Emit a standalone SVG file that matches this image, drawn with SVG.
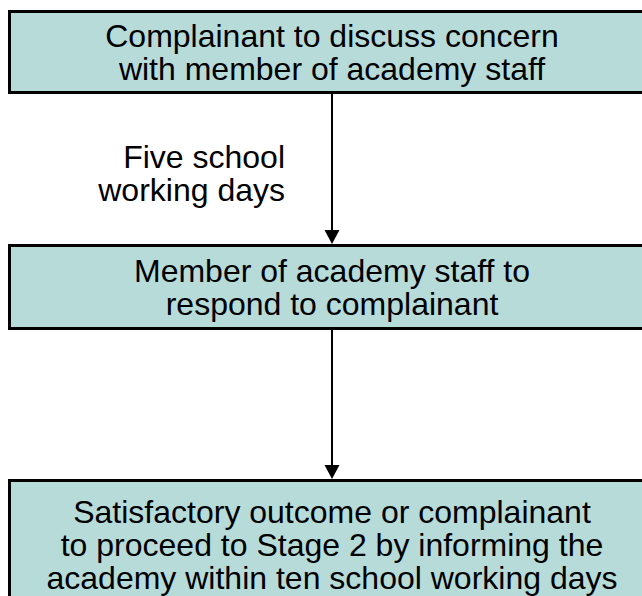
<svg xmlns="http://www.w3.org/2000/svg" width="642" height="596" viewBox="0 0 642 596">
<style>
.box{fill:#B6DBD8;stroke:#000;stroke-width:3}
.t{font-family:"Liberation Sans",Arial,sans-serif;font-size:32px;fill:#000;text-anchor:middle}
.lbl{font-family:"Liberation Sans",Arial,sans-serif;font-size:32px;fill:#000;text-anchor:end}
.c{stroke:#000;stroke-width:2;fill:none}
</style>
<rect width="642" height="596" fill="#fff"/>
<g id="connectors">
<line class="c" x1="332" y1="94" x2="332" y2="232"/>
<polygon points="332,244 324.5,230 339.5,230" fill="#000"/>
<line class="c" x1="332" y1="330" x2="332" y2="467"/>
<polygon points="332,479 324.5,465 339.5,465" fill="#000"/>
<text class="lbl" x="285" y="168">Five school</text>
<text class="lbl" x="285" y="201">working days</text>
</g>
<g id="node1">
<rect class="box" x="9.5" y="11.5" width="650" height="81"/>
<text class="t" x="332" y="47">Complainant to discuss concern</text>
<text class="t" x="332" y="80">with member of academy staff</text>
</g>
<g id="node2">
<rect class="box" x="9.5" y="245.5" width="650" height="83"/>
<text class="t" x="332" y="282">Member of academy staff to</text>
<text class="t" x="332" y="315">respond to complainant</text>
</g>
<g id="node3">
<rect class="box" x="9.5" y="480.5" width="650" height="130"/>
<text class="t" x="332" y="523">Satisfactory outcome or complainant</text>
<text class="t" x="332" y="556">to proceed to Stage 2 by informing the</text>
<text class="t" x="332" y="589">academy within ten school working days</text>
</g>
</svg>
